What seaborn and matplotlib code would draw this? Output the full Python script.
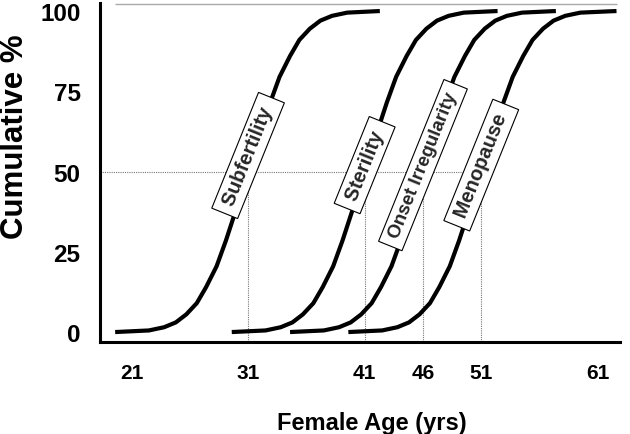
import matplotlib
matplotlib.use("Agg")
import matplotlib.pyplot as plt
import seaborn as sns
import pandas as pd

# ---------------- data ----------------
events = ["Subfertility", "Sterility", "Onset Irregularity", "Menopause"]
median_age = [31, 41, 46, 51]

cum_pct = [0.0, 0.5, 1.5, 3.0, 5.5, 9.0, 14.0, 20.5, 28.5, 38.5, 50.0,
           61.5, 71.5, 79.5, 86.0, 91.0, 94.5, 97.0, 98.5, 99.5, 100.0]

age_subfertility = [19.6, 22.5, 23.8, 24.8, 25.7, 26.6, 27.4, 28.3, 29.1, 30.0, 31.0,
                    32.0, 32.9, 33.7, 34.6, 35.4, 36.3, 37.2, 38.2, 39.5, 42.3]
age_sterility = [29.6, 32.5, 33.8, 34.8, 35.7, 36.6, 37.4, 38.3, 39.1, 40.0, 41.0,
                 42.0, 42.9, 43.7, 44.6, 45.4, 46.3, 47.2, 48.2, 49.5, 52.4]
age_onset = [34.6, 37.5, 38.8, 39.8, 40.7, 41.6, 42.4, 43.3, 44.1, 45.0, 46.0,
             47.0, 47.9, 48.7, 49.6, 50.4, 51.3, 52.2, 53.2, 54.5, 57.4]
age_menopause = [39.6, 42.5, 43.8, 44.8, 45.7, 46.6, 47.4, 48.3, 49.1, 50.0, 51.0,
                 52.0, 52.9, 53.7, 54.6, 55.4, 56.3, 57.2, 58.2, 59.5, 62.6]

x_ticks = [21, 31, 41, 46, 51, 61]
y_ticks = [0, 25, 50, 75, 100]
x_label = "Female Age (yrs)"
y_label = "Cumulative %"

# ---------------- figure ----------------
sns.set_theme(style="white")
plt.rcParams["font.family"] = ["Liberation Sans", "DejaVu Sans"]

fig = plt.figure(figsize=(6.3, 4.35), dpi=100)
ax = fig.add_axes([100 / 630, 1 - 343 / 435, 520 / 630, 339 / 435])

ages_all = [age_subfertility, age_sterility, age_onset, age_menopause]
rows = []
for ev, ages in zip(events, ages_all):
    for a, p in zip(ages, cum_pct):
        rows.append({"event": ev, "age": a, "pct": p})
df = pd.DataFrame(rows)

sns.lineplot(data=df, x="age", y="pct", units="event", estimator=None,
             color="black", lw=3.0, ax=ax, legend=False, zorder=3,
             solid_capstyle="butt", solid_joinstyle="round")

x_lo, x_hi = 18.3, 62.9
y_lo, y_hi = -3.1, 102.5
ax.set_xlim(x_lo, x_hi)
ax.set_ylim(y_lo, y_hi)

# reference (dotted) lines
ax.hlines(50, x_lo, median_age[-1], colors="#777777", linestyles=(0, (1, 1)),
          lw=0.8, zorder=1)
ax.vlines(median_age, y_lo, 50, colors="#777777", linestyles=(0, (1, 1)),
          lw=0.8, zorder=1)
# thin top line
ax.hlines(y_hi - 0.3, age_subfertility[0], age_menopause[-1], colors="#aaaaaa",
          lw=1.0, zorder=1, clip_on=False)

# boxed labels
label_y = [55, 52, 52, 52]
label_size = [14.5, 14.5, 13.5, 14.5]
for ev, m, ly, fs in zip(events, median_age, label_y, label_size):
    ax.text(m, ly, f" {ev} ", rotation=68, ha="center", va="center",
            rotation_mode="anchor", fontsize=fs, fontweight="bold", zorder=5,
            bbox=dict(boxstyle="square,pad=0.22", fc="white", ec="black", lw=0.8))

# spines
for s in ["top", "right"]:
    ax.spines[s].set_visible(False)
for s in ["left", "bottom"]:
    ax.spines[s].set_color("black")
    ax.spines[s].set_linewidth(2.2)

ax.set_xticks(x_ticks)
ax.set_yticks(y_ticks)
ax.tick_params(axis="x", length=0, pad=15, labelsize=15, labelcolor="black")
ax.tick_params(axis="y", length=0, pad=14, labelsize=17.5, labelcolor="black")
plt.setp(ax.get_xticklabels(), fontweight="bold")
plt.setp(ax.get_yticklabels(), fontweight="bold")

ax.set_xlabel(x_label, fontsize=17, fontweight="bold", color="black")
ax.xaxis.set_label_coords(0.523, -0.236)
ax.xaxis.label.set_va("center")
ax.set_ylabel(y_label, fontsize=22.5, fontweight="bold", color="black")
ax.yaxis.set_label_coords(-0.163, 0.608)
ax.yaxis.label.set_va("center")

ax.grid(False)
fig.savefig("out.png", dpi=100)
